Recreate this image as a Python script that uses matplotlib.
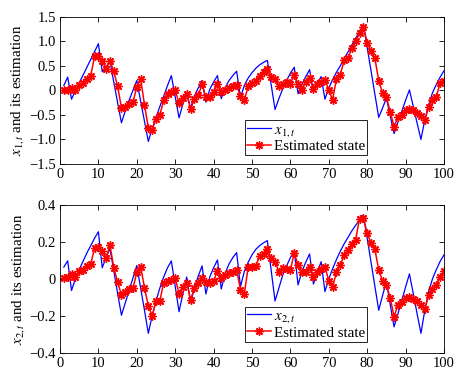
import numpy as np
import matplotlib
matplotlib.use("Agg")
import matplotlib.pyplot as plt

k = list(range(1, 101))

x1_true = [0.1, 0.27, -0.18, -0.01, 0.15, 0.31, 0.47, 0.63, 0.79, 0.95,
           0.38, 0.48, 0.59, 0.17, -0.25, -0.66, -0.42, -0.2, 0.0, 0.2,
           -0.22, -0.63, -1.04, -0.78, -0.55, -0.33, -0.12, 0.1, 0.3, -0.13,
           -0.56, -0.28, -0.04, -0.36, -0.12, 0.05, 0.2, -0.24, 0.02, 0.17,
           0.3, -0.17, 0.05, 0.2, 0.3, 0.39, -0.15, 0.1, 0.25, 0.36,
           0.45, 0.52, 0.57, 0.61, 0.11, -0.39, -0.17, 0.03, 0.2, 0.35,
           0.47, -0.07, 0.12, 0.28, 0.42, -0.03, 0.14, 0.28, -0.18, 0.05,
           0.22, 0.37, 0.5, 0.65, 0.78, 0.92, 1.06, 1.2, 1.34, 0.87,
           0.4, -0.08, -0.55, -0.36, -0.16, -0.52, -0.88, -0.65, -0.43, -0.2,
           0.01, -0.33, -0.67, -1.0, -0.6, -0.3, -0.05, 0.12, 0.27, 0.4]

x1_est = [0.0, 0.01, 0.05, 0.0, 0.1, 0.15, 0.24, 0.3, 0.69, 0.69,
          0.6, 0.44, 0.6, 0.39, 0.08, -0.35, -0.33, -0.28, -0.24, 0.07,
          0.24, -0.3, -0.76, -0.8, -0.58, -0.5, -0.2, -0.07, -0.03, 0.0,
          -0.26, -0.15, -0.07, -0.39, -0.17, -0.1, 0.12, -0.14, -0.13, -0.03,
          0.12, -0.03, 0.0, 0.04, 0.08, 0.1, -0.12, -0.2, 0.08, 0.15,
          0.2, 0.3, 0.37, 0.44, 0.28, 0.24, 0.08, 0.13, 0.17, 0.13,
          0.32, 0.13, 0.01, 0.17, 0.26, 0.03, 0.13, 0.17, 0.22, 0.0,
          -0.19, 0.24, 0.32, 0.61, 0.65, 0.86, 1.0, 1.17, 1.3, 0.97,
          0.8, 0.65, 0.2, -0.06, -0.14, -0.44, -0.74, -0.55, -0.5, -0.4,
          -0.37, -0.4, -0.47, -0.52, -0.6, -0.34, -0.2, -0.13, 0.15, 0.2]

x2_true = [0.064, 0.098, -0.063, 0.0, 0.05, 0.095, 0.14, 0.18, 0.22, 0.255,
           0.06, 0.115, 0.165, 0.045, -0.078, -0.197, -0.13, -0.062, 0.005, 0.072,
           -0.05, -0.17, -0.295, -0.2, -0.12, -0.05, 0.01, 0.06, 0.097, -0.04,
           -0.178, -0.08, 0.01, -0.13, -0.05, 0.015, 0.07, -0.082, 0.01, 0.06,
           0.102, -0.055, 0.03, 0.08, 0.115, 0.142, -0.042, 0.04, 0.09, 0.13,
           0.16, 0.18, 0.195, 0.207, 0.045, -0.12, -0.05, 0.02, 0.07, 0.115,
           0.151, -0.033, 0.04, 0.09, 0.135, -0.028, 0.035, 0.093, -0.069, 0.0,
           0.055, 0.105, 0.15, 0.19, 0.225, 0.26, 0.29, 0.32, 0.346, 0.22,
           0.09, -0.04, -0.17, -0.09, -0.015, -0.14, -0.26, -0.19, -0.116, -0.044,
           0.027, -0.08, -0.19, -0.295, -0.17, -0.07, 0.0, 0.05, 0.095, 0.13]

x2_est = [0.005, 0.012, 0.025, 0.012, 0.04, 0.048, 0.072, 0.08, 0.166, 0.175,
          0.152, 0.112, 0.184, 0.061, -0.018, -0.087, -0.069, -0.055, -0.051, 0.036,
          0.066, -0.048, -0.146, -0.2, -0.122, -0.12, -0.02, -0.012, -0.008, 0.005,
          -0.08, -0.045, -0.022, -0.112, -0.052, -0.024, 0.003, -0.018, -0.025, -0.012,
          0.044, 0.006, 0.022, 0.03, 0.036, 0.046, -0.058, -0.08, 0.063, 0.064,
          0.07, 0.124, 0.135, 0.16, 0.112, 0.093, 0.039, 0.057, 0.052, 0.048,
          0.139, 0.075, 0.039, 0.039, 0.063, 0.009, 0.039, 0.052, 0.063, -0.009,
          -0.045, 0.039, 0.075, 0.127, 0.156, 0.19, 0.212, 0.326, 0.33, 0.247,
          0.193, 0.16, 0.05, -0.012, -0.035, -0.102, -0.206, -0.14, -0.128, -0.105,
          -0.096, -0.107, -0.121, -0.14, -0.165, -0.09, -0.053, -0.035, 0.009, 0.042]

x_ticks = [0, 10, 20, 30, 40, 50, 60, 70, 80, 90, 100]
y1_ticks = [1.5, 1.0, 0.5, 0, -0.5, -1.0, -1.5]
y1_labels = ["1.5", "1.0", "0.5", "0", "\u22120.5", "\u22121.0", "\u22121.5"]
y2_ticks = [0.4, 0.2, 0, -0.2, -0.4]
y2_labels = ["0.4", "0.2", "0", "\u22120.2", "\u22120.4"]

plt.rcParams['font.family'] = ['Liberation Serif', 'DejaVu Serif']
plt.rcParams['mathtext.fontset'] = 'stix'

fig = plt.figure(figsize=(4.6, 3.77), dpi=100)
W, H = 460, 377
def ax_rect(l, t, r, b):
    return [l / W, 1 - b / H, (r - l) / W, (b - t) / H]

ax1 = fig.add_axes(ax_rect(60, 16.7, 444, 164))
ax2 = fig.add_axes(ax_rect(60, 205, 444, 352.7))

star = (8, 2, 0)
panels = [
    (ax1, x1_true, x1_est, (-1.5, 1.5), y1_ticks, y1_labels,
     r'$x_{1,t}$ and its estimation', r'$x_{1,t}$', (0.482, 0.061)),
    (ax2, x2_true, x2_est, (-0.4, 0.4), y2_ticks, y2_labels,
     r'$x_{2,t}$ and its estimation', r'$x_{2,t}$', (0.482, 0.074)),
]
for ax, yt, ye, ylim, yticks, ylabels, ylab, leglab, legpos in panels:
    ax.plot(k, yt, color='#0000ff', lw=0.9, label=leglab)
    ax.plot(k, ye, color='#ff0000', lw=1.1, marker=star, ms=6, mew=1.0,
            label='Estimated state')
    ax.set_xlim(0, 100)
    ax.set_ylim(*ylim)
    ax.set_xticks(x_ticks)
    ax.set_yticks(yticks)
    ax.set_yticklabels(ylabels)
    ax.tick_params(direction='in', top=True, right=True, length=3.5,
                   width=0.6, labelsize=10.5, pad=3)
    for s in ax.spines.values():
        s.set_linewidth(0.6)
    ax.set_ylabel(ylab, fontsize=10.8, labelpad=2)
    leg = ax.legend(loc='lower left', bbox_to_anchor=legpos, fontsize=10.8,
                    frameon=True, fancybox=False, framealpha=1,
                    edgecolor='black', borderpad=0.15, labelspacing=0.05,
                    handlelength=1.6, handletextpad=0.15, borderaxespad=0)
    leg.get_frame().set_linewidth(0.6)

fig.savefig('out.png', dpi=100)
